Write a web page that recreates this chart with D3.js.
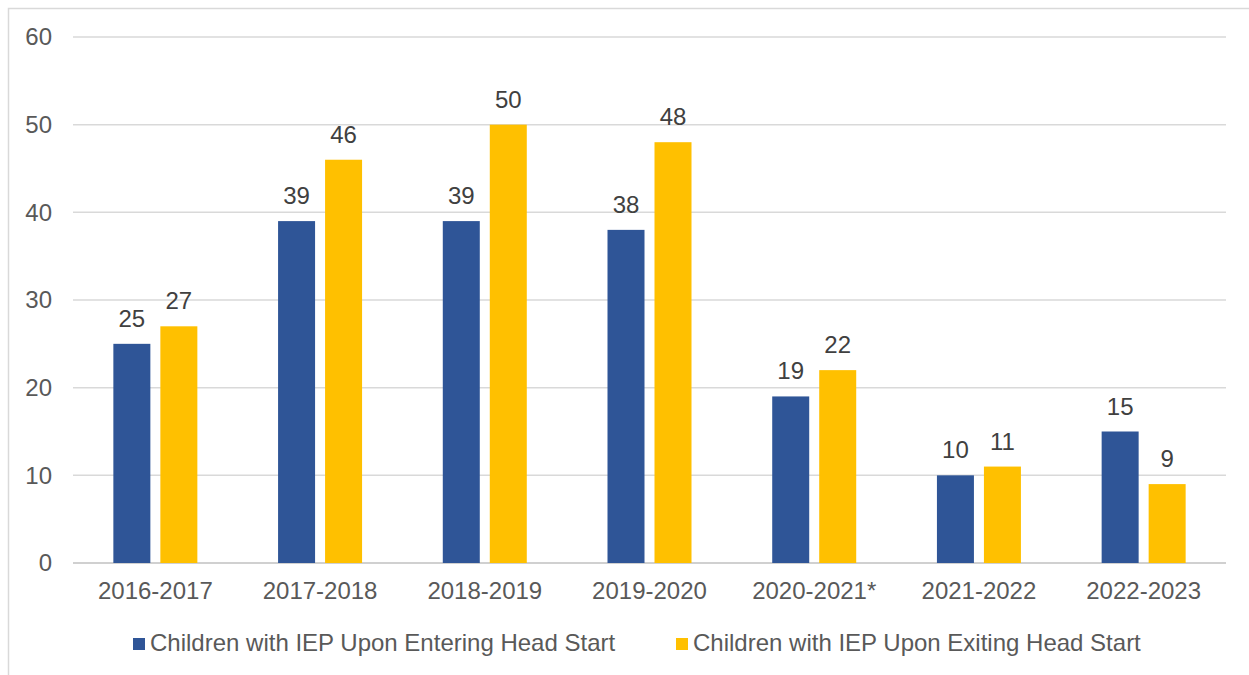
<!DOCTYPE html>
<html>
<head>
<meta charset="utf-8">
<script src="https://cdn.jsdelivr.net/npm/d3@7"></script>
<style>
  html, body { margin: 0; padding: 0; background: #fff; }
  svg { display: block; font-family: "Liberation Sans", Arial, sans-serif; }
</style>
</head>
<body>
<svg id="chart" width="1249" height="675"></svg>
<script>
// School years shown on the x axis
const years = ["2016-2017", "2017-2018", "2018-2019", "2019-2020", "2020-2021*", "2021-2022", "2022-2023"];
// Children with an IEP when entering Head Start
const entering = [25, 39, 39, 38, 19, 10, 15];
// Children with an IEP when exiting Head Start
const exiting = [27, 46, 50, 48, 22, 11, 9];
const seriesNames = ["Children with IEP Upon Entering Head Start", "Children with IEP Upon Exiting Head Start"];
const yTicks = [0, 10, 20, 30, 40, 50, 60];

const colors = ["#2F5597", "#FFC000"];
const fontSize = 24;
const svg = d3.select("#chart");

// Outer chart frame
svg.append("rect")
  .attr("x", 8.5).attr("y", 8.5)
  .attr("width", 1260).attr("height", 700)
  .attr("fill", "none").attr("stroke", "#d9d9d9").attr("stroke-width", 1.5);

const plotLeft = 73, plotRight = 1226, plotTop = 37, plotBottom = 563;

const x = d3.scaleBand().domain(years).range([plotLeft, plotRight]).paddingInner(0).paddingOuter(0);
const y = d3.scaleLinear().domain([0, 60]).range([plotBottom, plotTop]);

// Horizontal gridlines
svg.append("g").selectAll("line").data(yTicks).join("line")
  .attr("x1", plotLeft).attr("x2", plotRight)
  .attr("y1", d => y(d)).attr("y2", d => y(d))
  .attr("stroke", d => d === 0 ? "#d0d0d0" : "#d9d9d9")
  .attr("stroke-width", d => d === 0 ? 2 : 1.5);

// Y axis labels
const yAxis = d3.axisLeft(y).tickValues(yTicks).tickSize(0).tickPadding(0);
const gy = svg.append("g").attr("transform", `translate(${52},0)`).call(yAxis);
gy.select(".domain").remove();
gy.selectAll("text").attr("font-size", fontSize).attr("fill", "#595959")
  .attr("font-family", "Liberation Sans, Arial, sans-serif");

// X axis labels
const xAxis = d3.axisBottom(x).tickSize(0).tickPadding(0);
const gx = svg.append("g").attr("transform", `translate(0,${plotBottom + 19})`).call(xAxis);
gx.select(".domain").remove();
gx.selectAll("text").attr("font-size", fontSize).attr("fill", "#595959")
  .attr("font-family", "Liberation Sans, Arial, sans-serif");

// Bars with value labels
const barW = 37, gap = 10;
const groups = years.map((yr, i) => ({ yr, vals: [entering[i], exiting[i]] }));
const g = svg.append("g");
groups.forEach(gr => {
  const cx = x(gr.yr) + x.bandwidth() / 2;
  gr.vals.forEach((v, s) => {
    const bx = s === 0 ? cx - gap / 2 - barW : cx + gap / 2;
    g.append("rect")
      .attr("x", bx).attr("y", y(v))
      .attr("width", barW).attr("height", y(0) - y(v))
      .attr("fill", colors[s]);
    g.append("text")
      .attr("x", bx + barW / 2).attr("y", y(v) - 17)
      .attr("text-anchor", "middle")
      .attr("font-size", fontSize).attr("fill", "#404040")
      .text(v);
  });
});

// Legend
const legendItems = [{ x: 133, name: seriesNames[0], c: colors[0] }, { x: 676, name: seriesNames[1], c: colors[1] }];
const lg = svg.append("g");
legendItems.forEach(it => {
  lg.append("rect").attr("x", it.x).attr("y", 638).attr("width", 12).attr("height", 12).attr("fill", it.c);
  lg.append("text").attr("x", it.x + 17).attr("y", 651)
    .attr("font-size", fontSize).attr("fill", "#595959").text(it.name);
});
</script>
</body>
</html>
